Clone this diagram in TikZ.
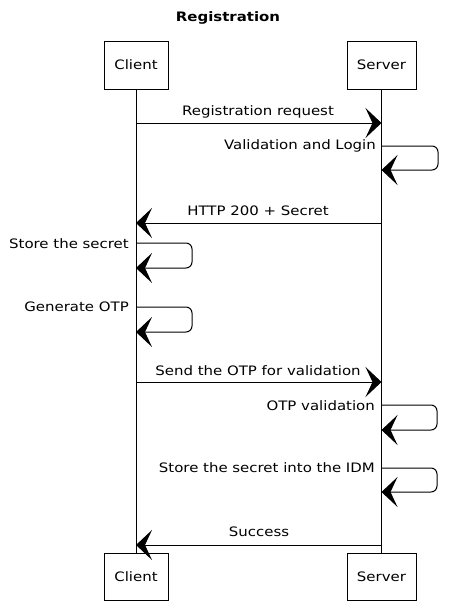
\documentclass[tikz,border=0pt]{standalone}
\usepackage{fontspec}
\setmainfont{DejaVu Sans}[FakeStretch=1.15]
\usetikzlibrary{arrows.meta}
\begin{document}
\begin{tikzpicture}[x=1pt,y=-1pt,
  actor/.style={draw,line width=0.9pt,minimum width=64pt,minimum height=48pt,font=\fontsize{13}{15}\selectfont,inner sep=0pt},
  life/.style={line width=0.8pt},
  msg/.style={line width=1pt,-{Stealth[length=16pt,width=30pt,inset=7pt]}},
  lbl/.style={font=\fontsize{13}{15}\selectfont,inner sep=0pt},
  selfloop/.style={msg,rounded corners=6pt}]
\useasboundingbox (0,0) rectangle (452,610);
\node[lbl,font=\fontsize{13}{15}\selectfont\bfseries] (title) at (228,18) {Registration};
% participants
\node[actor] (ct) at (136,65) {Client};
\node[actor,minimum width=69pt] (st) at (381.5,65) {Server};
\node[actor,minimum height=47pt] (cb) at (136,577) {Client};
\node[actor,minimum width=69pt,minimum height=47pt] (sb) at (381.5,577) {Server};
\draw[life] (ct.south) -- (cb.north);
\draw[life] (st.south) -- (sb.north);
% lifeline points
\coordinate (c1) at (136,123); \coordinate (s1) at (381.5,123);
\coordinate (s2a) at (381.5,146); \coordinate (s2b) at (381.5,170);
\coordinate (c3) at (136,223); \coordinate (s3) at (381.5,223);
\coordinate (c4a) at (136,243); \coordinate (c4b) at (136,268);
\coordinate (c5a) at (136,307); \coordinate (c5b) at (136,332);
\coordinate (c6) at (136,382); \coordinate (s6) at (381.5,382);
\coordinate (s7a) at (381.5,405); \coordinate (s7b) at (381.5,430);
\coordinate (s8a) at (381.5,468); \coordinate (s8b) at (381.5,492);
\coordinate (c9) at (136,545); \coordinate (s9) at (381.5,545);
% messages
\draw[msg] (c1) -- (s1);
\node[lbl] (l1) at (258,112) {Registration request};
\draw[selfloop] (s2a) -- (438,146) -- (438,170) -- (s2b);
\node[lbl,anchor=east] (l2) at (376,146) {Validation and Login};
\draw[msg] (s3) -- (c3);
\node[lbl] (l3) at (258,211) {HTTP 200 + Secret};
\draw[selfloop] (c4a) -- (192,243) -- (192,268) -- (c4b);
\node[lbl,anchor=east] (l4) at (129,244) {Store the secret};
\draw[selfloop] (c5a) -- (192,307) -- (192,332) -- (c5b);
\node[lbl,anchor=east] (l5) at (129,307) {Generate OTP};
\draw[msg] (c6) -- (s6);
\node[lbl] (l6) at (258,371) {Send the OTP for validation};
\draw[selfloop] (s7a) -- (437,405) -- (437,430) -- (s7b);
\node[lbl,anchor=east] (l7) at (375,406) {OTP validation};
\draw[selfloop] (s8a) -- (437,468) -- (437,492) -- (s8b);
\node[lbl,anchor=east] (l8) at (375,468) {Store the secret into the IDM};
\draw[msg] (s9) -- (c9);
\node[lbl] (l9) at (259,532) {Success};
\end{tikzpicture}
\end{document}
